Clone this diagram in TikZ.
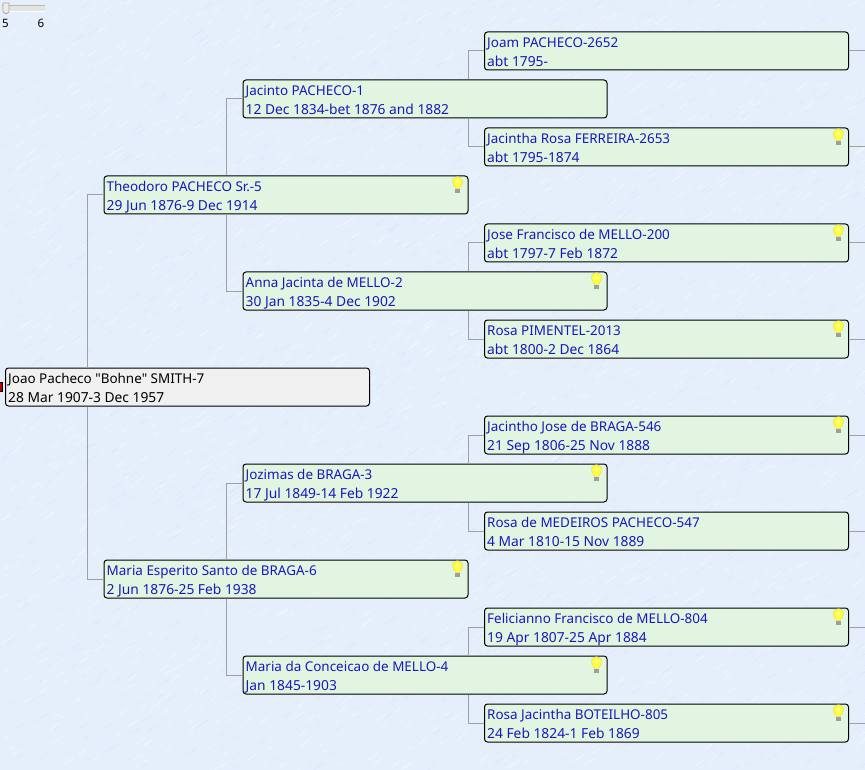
\documentclass[tikz,border=0pt]{standalone}
\usepackage{fontspec}
\setmainfont[Ligatures=ResetAll]{Noto Sans}
\font\plainquotes="Noto Sans" at 13.45pt
\definecolor{bgblue}{HTML}{E5EFFC}
\definecolor{bgpale}{HTML}{F1F7FE}
\definecolor{bgdeep}{HTML}{DAE8F9}
\definecolor{boxgreen}{HTML}{E1F5E1}
\definecolor{rootgray}{HTML}{F0F0F0}
\definecolor{namecol}{HTML}{1818C0}
\definecolor{linkgray}{HTML}{A0A0A0}
\definecolor{bulbyellow}{HTML}{FFFF33}
\definecolor{bulbedge}{HTML}{E6E68A}
\tikzset{
 person/.style={draw=black,line width=1pt,rounded corners=3pt,minimum width=364pt,minimum height=38pt,inner sep=0pt,fill=boxgreen,anchor=north west},
 rootperson/.style={person,fill=rootgray},
 nametxt/.style={anchor=base west,inner sep=0pt,font=\fontsize{13.45}{15}\selectfont,text=namecol},
 datetxt/.style={nametxt,font=\fontsize{13.8}{15}\selectfont},
 link/.style={draw=linkgray,line width=1pt},
 sliderlabel/.style={anchor=base,inner sep=0pt,font=\fontsize{11.5}{13}\selectfont,text=black},
}
\newcommand{\bulb}[2]{%
 \begin{scope}[shift={([xshift=-#2pt,yshift=-8pt]#1.north east)}]
  \fill[gray!75] (-2.2,5) rectangle (2.2,9.5);
  \path[fill=bulbyellow,draw=bulbedge,line width=.9pt] (-2.2,5) .. controls (-2.2,2.5) and (-5.2,1.5) .. (-5.2,-1.5) .. controls (-5.2,-8.4) and (5.2,-8.4) .. (5.2,-1.5) .. controls (5.2,1.5) and (2.2,2.5) .. (2.2,5) -- cycle;
  \fill[white,opacity=.45] (0,-2) circle (2pt);
 \end{scope}
}
\newcommand{\person}[5]{%
 \node[person] (#1) at (#2,#3) {};
 \node[nametxt] (#1a) at (#2+3,#3+16) {#4};
 \node[datetxt] (#1b) at (#2+3,#3+35) {#5};
}
\newcommand{\lnk}[3]{\draw[link] (#1.west) -- ++(-16,0) -- ([xshift=-16pt]#1.west |- #2.#3);}
\newcommand{\stub}[1]{\draw[link] (#1.east) -- (#1.east -| edge);}
\begin{document}
\begin{tikzpicture}[x=1pt,y=-1pt]
\useasboundingbox (0,0) rectangle (865,770);
\fill[bgblue] (0,0) rectangle (865,770);
\begin{scope}
\clip (0,0) rectangle (865,770);
\pgfmathsetseed{7}
\foreach \i in {1,...,3000}{
  \pgfmathsetmacro{\px}{rnd*865}
  \pgfmathsetmacro{\py}{rnd*770}
  \pgfmathsetmacro{\pl}{3+rnd*8}
  \pgfmathparse{rnd<0.6 ? "bgpale" : "bgdeep"}
  \edef\pc{\pgfmathresult}
  \draw[\pc,line width=.6pt] (\px,\py) -- ++(\pl,-0.7*\pl);
}
\end{scope}
\coordinate (edge) at (865,0);
% slider
\fill[gray!55] (2,5) rectangle (45,6);
\fill[gray!22] (2,6) rectangle (45,11);
\fill[white] (2,11) rectangle (45,12);
\path[fill=gray!15,draw=gray!70,line width=.7pt] (3,3) -- (9,3) -- (9,12) -- (6,14) -- (3,12) -- cycle;
\node[sliderlabel] (slfive) at (5.5,28) {5};
\node[sliderlabel] (slsix) at (41,28) {6};
% people
\fill[red!75!black] (0,382.5) rectangle (2,391.5);
\draw[black,line width=.6pt] (0,382.5) -- (2,382.5) -- (2,391.5) -- (0,391.5);
\node[rootperson] (root) at (5,367.5) {};
\node[nametxt,text=black,font=\plainquotes] (roota) at (8,383.5) {Joao Pacheco "Bohne" SMITH-7};
\node[datetxt,text=black] (rootb) at (8,402.5) {28 Mar 1907-3 Dec 1957};
\person{gia}{103.5}{175.5}{Theodoro PACHECO Sr.-5}{29 Jun 1876-9 Dec 1914}
\person{gib}{103.5}{559.5}{Maria Esperito Santo de BRAGA-6}{2 Jun 1876-25 Feb 1938}
\person{iia}{242.5}{79.5}{Jacinto PACHECO-1}{12 Dec 1834-bet 1876 and 1882}
\person{iib}{242.5}{271.5}{Anna Jacinta de MELLO-2}{30 Jan 1835-4 Dec 1902}
\person{iic}{242.5}{463.5}{Jozimas de BRAGA-3}{17 Jul 1849-14 Feb 1922}
\person{iid}{242.5}{655.5}{Maria da Conceicao de MELLO-4}{Jan 1845-1903}
\person{ma}{484}{31.5}{Joam PACHECO-2652}{abt 1795-}
\person{mb}{484}{127.5}{Jacintha Rosa FERREIRA-2653}{abt 1795-1874}
\person{mc}{484}{223.5}{Jose Francisco de MELLO-200}{abt 1797-7 Feb 1872}
\person{md}{484}{319.5}{Rosa PIMENTEL-2013}{abt 1800-2 Dec 1864}
\person{me}{484}{415.5}{Jacintho Jose de BRAGA-546}{21 Sep 1806-25 Nov 1888}
\person{mf}{484}{511.5}{Rosa de MEDEIROS PACHECO-547}{4 Mar 1810-15 Nov 1889}
\person{mg}{484}{607.5}{Felicianno Francisco de MELLO-804}{19 Apr 1807-25 Apr 1884}
\person{mh}{484}{703.5}{Rosa Jacintha BOTEILHO-805}{24 Feb 1824-1 Feb 1869}
% connectors
\lnk{gia}{root}{north}
\lnk{gib}{root}{south}
\lnk{iia}{gia}{north}
\lnk{iib}{gia}{south}
\lnk{iic}{gib}{north}
\lnk{iid}{gib}{south}
\lnk{ma}{iia}{north}
\lnk{mb}{iia}{south}
\lnk{mc}{iib}{north}
\lnk{md}{iib}{south}
\lnk{me}{iic}{north}
\lnk{mf}{iic}{south}
\lnk{mg}{iid}{north}
\lnk{mh}{iid}{south}
\foreach \m in {ma,mb,mc,md,me,mf,mg,mh}{\stub{\m}}
% bulbs
\bulb{gia}{11}
\bulb{gib}{11}
\bulb{iib}{11}
\bulb{iic}{11}
\bulb{iid}{11}
\foreach \m in {mb,mc,md,me,mg,mh}{\bulb{\m}{10.5}}
\end{tikzpicture}
\end{document}
